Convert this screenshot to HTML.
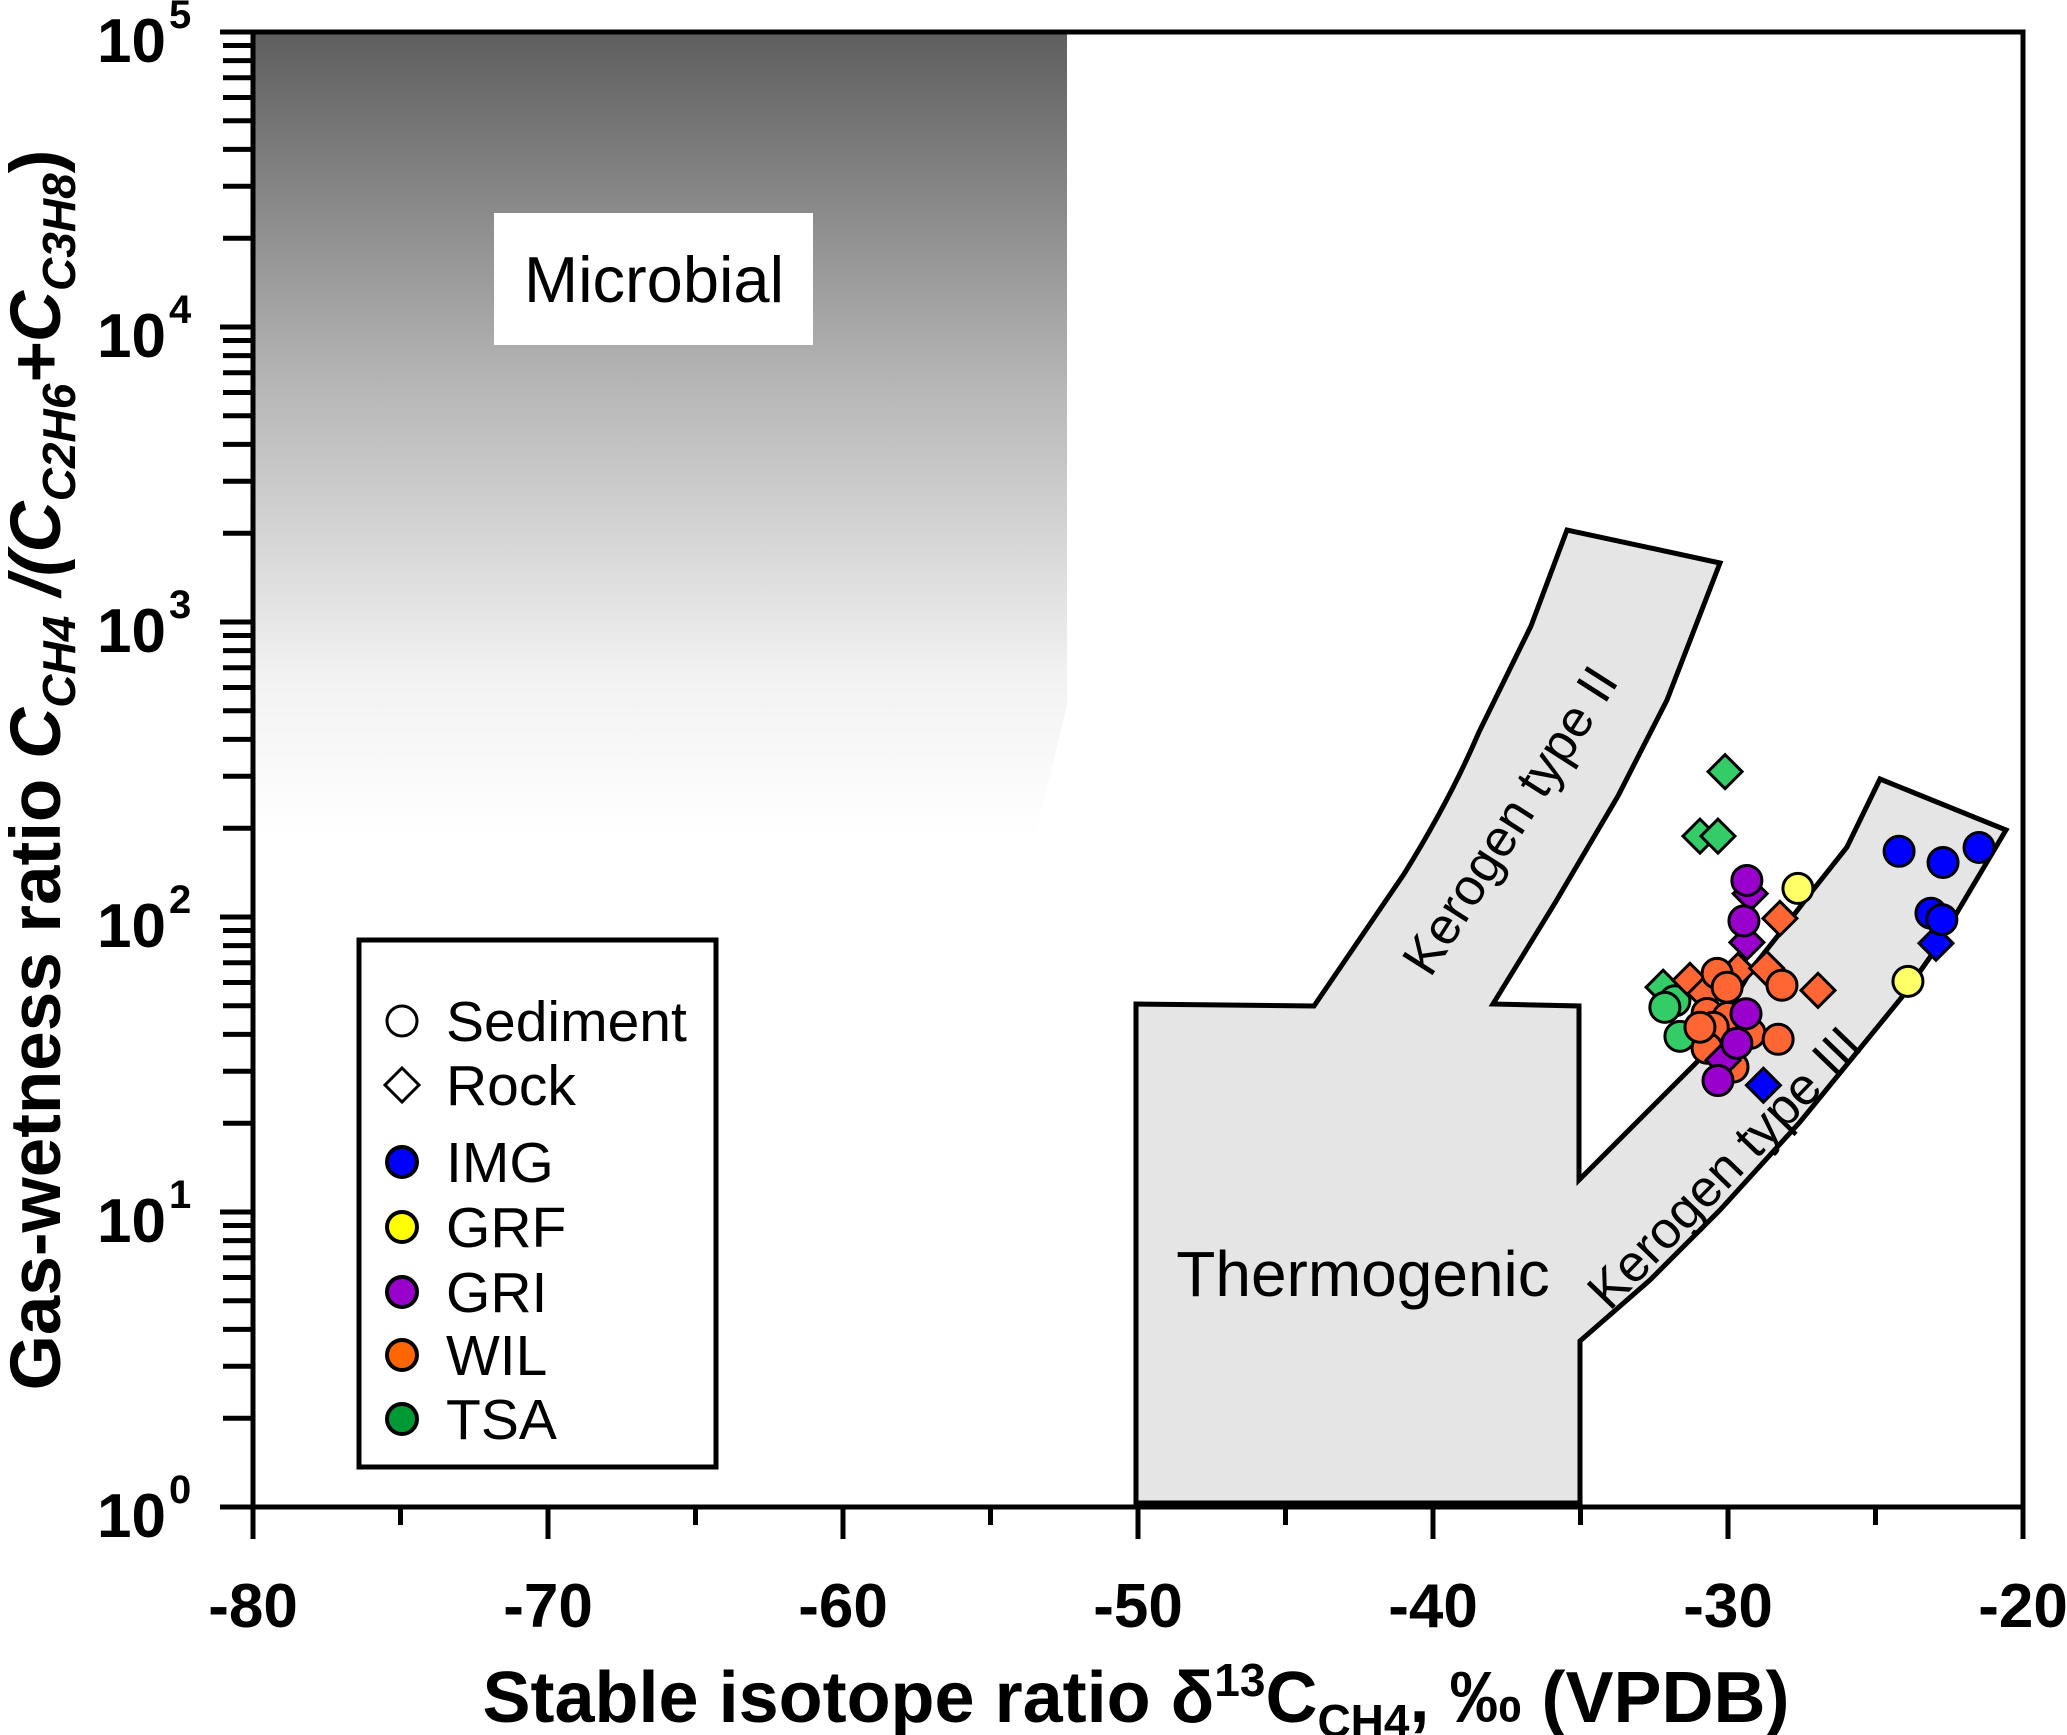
<!DOCTYPE html>
<html><head><meta charset="utf-8"><style>
html,body{margin:0;padding:0;background:#fff}
svg{display:block}
text{font-family:"Liberation Sans",Arial,sans-serif}
</style></head><body>
<svg id="chart" width="2067" height="1735" viewBox="0 0 2067 1735" xmlns="http://www.w3.org/2000/svg">
<defs>
<linearGradient id="mg" x1="0" y1="0" x2="0" y2="1">
<stop offset="0" stop-color="#5e5e5e"/><stop offset="0.45" stop-color="#b8b8b8"/><stop offset="0.8" stop-color="#f2f2f2"/><stop offset="1" stop-color="#ffffff"/>
</linearGradient>
</defs>
<g id="bg"></g>
<g id="marks"></g>
<g id="axes"></g>
</svg>
<script>
const xTicks = [-80,-70,-60,-50,-40,-30,-20];
const yDecades = [0,1,2,3,4,5];
const imgSed = [[-24.2,167],[-22.71,153],[-21.49,172],[-23.12,103],[-22.75,98]];
const imgRock = [[-22.95,81.5],[-28.8,26.9]];
const grfSed = [[-27.63,125],[-23.9,60.5]];
const griSed = [[-29.36,133],[-29.46,97],[-29.39,47],[-29.7,37.3],[-30.34,27.9]];
const griRock = [[-29.25,120],[-29.36,82],[-30.17,32.7]];
const wilRock = [[-28.24,98.9],[-26.95,56.4],[-31.29,61],[-29.66,65.9],[-28.69,67],[-30.78,55]];
const wilSed = [[-30.37,64.4],[-30.03,57.8],[-28.17,58.7],[-30.71,47.1],[-30.0,45.7],[-30.5,42.3],[-29.25,40.3],[-28.3,38.5],[-30.71,35.9],[-29.83,31],[-30.95,42.3]];
const tsaRock = [[-30.1,311],[-30.95,188],[-30.34,188],[-32.2,57.8]];
const tsaSed = [[-31.8,52],[-32.14,49.4],[-31.63,39.4]];

const NS="http://www.w3.org/2000/svg";
const X0=253,X1=2023,Y0=1507,Y1=32;
function sx(v){return X0+(v+80)/60*(X1-X0);}
function sy(v){return Y0-Math.log10(v)/5*(Y0-Y1);}
function mk(tag,attrs,parent){const e=document.createElementNS(NS,tag);for(const k in attrs)e.setAttribute(k,attrs[k]);parent.appendChild(e);return e;}
const bg=document.getElementById('bg'),marks=document.getElementById('marks'),axes=document.getElementById('axes');

let m=mk('path',{d:`M253 32 L1067 32 L1067 705 L1035 837 L253 837 Z`,fill:'url(#mg)'},bg);

let mb=mk('rect',{x:494,y:213,width:319,height:132,fill:'#fff'},bg);

let mt=mk('text',{x:654,y:302,'font-size':65,'text-anchor':'middle',fill:'#000'},bg);mt.textContent='Microbial';


let tp=mk('path',{d:`M1136 1004 L1314 1006 L1404 874 Q1450 800 1479 732 L1531 626 L1567 530 L1720 563 L1667 700 L1618 796 L1555 903 L1493 1004 L1579 1006 L1579 1180 L1698 1061 L1753 967 L1780 933 L1813 890 L1847 847 L1880 779 L2006 830 L1933 953 L1902 997 L1800 1122 L1720 1210 L1650 1280 L1580 1341 L1580 1503 L1136 1503 Z`,fill:'#e5e5e5',stroke:'#000','stroke-width':5,'stroke-linejoin':'miter'},bg);

let tt=mk('text',{x:1363,y:1296,'font-size':64,'text-anchor':'middle'},bg);tt.textContent='Thermogenic';

let k2=mk('text',{x:0,y:0,'font-size':52,'text-anchor':'middle',transform:'translate(1525,830) rotate(-57.5)'},bg);k2.textContent='Kerogen type II';

let k3=mk('text',{x:0,y:0,'font-size':52,'text-anchor':'middle',transform:'translate(1737,1180) rotate(-46)'},bg);k3.textContent='Kerogen type III';


function circ(p,fill,g){const c=mk('circle',{cx:sx(p[0]),cy:sy(p[1]),r:15,fill:fill,stroke:'#000','stroke-width':3},g);return c;}
function diam(p,fill,g){const x=sx(p[0]),y=sy(p[1]),s=17;const d=mk('path',{d:`M${x} ${y-s} L${x+s} ${y} L${x} ${y+s} L${x-s} ${y} Z`,fill:fill,stroke:'#000','stroke-width':3},g);return d;}
const series=[
 [tsaRock,'#33cc66',diam,'tsa-rock-point'],[tsaSed,'#33cc66',circ,'tsa-sediment-point'],
 [wilRock,'#ff6633',diam,'wil-rock-point'],[wilSed,'#ff6633',circ,'wil-sediment-point'],
 [griRock,'#9900cc',diam,'gri-rock-point'],[griSed,'#9900cc',circ,'gri-sediment-point'],
 [grfSed,'#ffff66',circ,'grf-sediment-point'],
 [imgRock,'#0000ff',diam,'img-rock-point'],[imgSed,'#0000ff',circ,'img-sediment-point']];
for(const s of series){for(const p of s[0]){const e=s[2](p,s[1],marks);

}}

let lg=mk('rect',{x:359,y:940,width:357,height:527,fill:'#fff',stroke:'#000','stroke-width':5},axes);

const legItems=[['Sediment','none','c',1021],['Rock','none','d',1085],['IMG','#0000ff','c',1162],['GRF','#ffff00','c',1227],['GRI','#9900cc','c',1292],['WIL','#ff6600','c',1355],['TSA','#009933','c',1419]];
for(const it of legItems){
 let e;
 if(it[2]==='c'){e=mk('circle',{cx:402,cy:it[3],r:15,fill:it[1]==='none'?'#fff':it[1],stroke:'#000','stroke-width':it[1]==='none'?3:4},axes);}
 else{e=mk('path',{d:`M402 ${it[3]-17} L419 ${it[3]} L402 ${it[3]+17} L385 ${it[3]} Z`,fill:'#fff',stroke:'#000','stroke-width':3},axes);}
 
 
 const t=mk('text',{x:446,y:it[3]+20,'font-size':57},axes);t.textContent=it[0];
 
 
}

let fr=mk('rect',{x:X0,y:Y1,width:X1-X0,height:Y0-Y1,fill:'none',stroke:'#000','stroke-width':5},axes);

for(let v=-80;v<=-20;v+=5){const x=sx(v);const major=(v%10===0);
 const l=mk('line',{x1:x,y1:Y0,x2:x,y2:Y0+(major?32:18),stroke:'#000','stroke-width':5},axes);
 }
for(const v of xTicks){const t=mk('text',{x:sx(v),y:1627,'font-size':62,'font-weight':'bold','text-anchor':'middle'},axes);t.textContent=String(v);
 }
for(const d of yDecades){
 for(let k=1;k<=9;k++){if(d===5&&k>1)break;const y=sy(k*Math.pow(10,d));
  const l=mk('line',{x1:k===1?220:223,y1:y,x2:X0,y2:y,stroke:'#000','stroke-width':5},axes);
  }
 const y=sy(Math.pow(10,d));
 const t=mk('text',{x:166,y:y+30,'font-size':62,'font-weight':'bold','text-anchor':'end'},axes);t.textContent='10';
 
 const e=mk('text',{x:169,y:y-4,'font-size':40,'font-weight':'bold'},axes);e.textContent=String(d);
 
}
let xt=mk('text',{x:1136,y:1722,'font-size':72,'font-weight':'bold','text-anchor':'middle'},axes);
xt.innerHTML='Stable isotope ratio \u03B4<tspan font-size="46" dy="-26">13</tspan><tspan dy="26">C</tspan><tspan font-size="46" dy="15">CH4</tspan><tspan dy="-15">, \u2030 (VPDB)</tspan>';

let yt=mk('text',{x:0,y:0,'font-size':71,'font-weight':'bold','text-anchor':'middle',transform:'translate(60,770) rotate(-90)'},axes);
yt.innerHTML='Gas-wetness ratio <tspan font-style="italic">C</tspan><tspan font-style="italic" font-size="46" dy="15">CH4</tspan><tspan font-style="italic" dy="-15"> /(C</tspan><tspan font-style="italic" font-size="46" dy="15">C2H6</tspan><tspan font-style="italic" dy="-15">+C</tspan><tspan font-style="italic" font-size="46" dy="15">C3H8</tspan><tspan dy="-15">)</tspan>';

</script>
</body></html>
